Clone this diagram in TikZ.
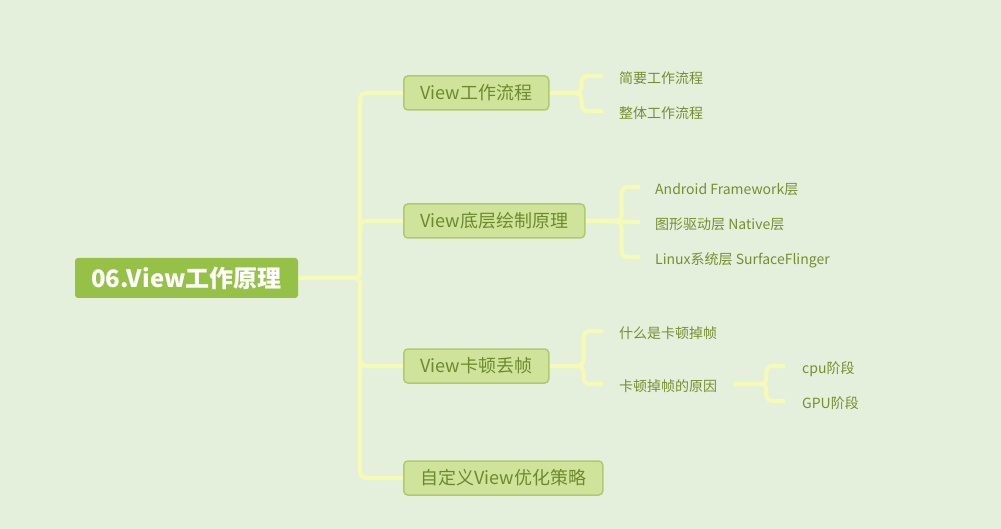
\documentclass[tikz,border=0pt]{standalone}
\usepackage{fontspec}
\newfontfamily\cjk{Noto Sans CJK SC}
\usetikzlibrary{backgrounds}
\definecolor{bgc}{HTML}{E5F0DC}
\definecolor{rootfill}{HTML}{94C146}
\definecolor{boxfill}{HTML}{CFE49A}
\definecolor{boxline}{HTML}{B0CB6C}
\definecolor{boxtext}{HTML}{6C8A2D}
\definecolor{leaftext}{HTML}{758F30}
\definecolor{conn}{HTML}{F5FBB5}
\tikzset{
  rootbox/.style={fill=rootfill, rounded corners=3pt, minimum width=223pt, minimum height=40pt,
    inner sep=0pt, text=white, font=\cjk\bfseries\fontsize{24}{26}\selectfont},
  topicbox/.style={fill=boxfill, draw=boxline, line width=1.5pt, rounded corners=4pt, minimum height=34pt,
    inner sep=0pt, anchor=west, text=boxtext, font=\cjk\fontsize{18}{20}\selectfont},
  leaf/.style={anchor=west, inner ysep=2pt, inner xsep=16pt, text height=14.5pt, text depth=0pt,
    text=leaftext, font=\cjk\fontsize{14}{16}\selectfont},
  link/.style={draw=conn, line width=4pt, rounded corners=6pt},
}
\begin{document}
\begin{tikzpicture}[x=1pt,y=-1pt]
\useasboundingbox (0,0) rectangle (1001,529);
\node[rootbox] (root) at (186.5,278) {06.View工作原理};
\node[topicbox, minimum width=145pt] (b1) at (403,93) {View工作流程};
\node[topicbox, minimum width=181pt] (b2) at (403,221) {View底层绘制原理};
\node[topicbox, minimum width=145pt] (b3) at (403,366) {View卡顿丢帧};
\node[topicbox, minimum width=199pt] (b4) at (403,478) {自定义View优化策略};
\node[leaf] (l11) at (603,76) {简要工作流程};
\node[leaf] (l12) at (603,111) {整体工作流程};
\node[leaf, inner xsep=15pt] (l21) at (640,187) {Android Framework层};
\node[leaf, inner xsep=15pt] (l22) at (640,222) {图形驱动层 Native层};
\node[leaf, inner xsep=15pt] (l23) at (640,257) {Linux系统层 SurfaceFlinger};
\node[leaf] (l31) at (603,331) {什么是卡顿掉帧};
\node[leaf] (l32) at (603,384) {卡顿掉帧的原因};
\node[leaf, inner xsep=17pt] (l41) at (785,366) {cpu阶段};
\node[leaf, inner xsep=17pt] (l42) at (785,401) {GPU阶段};
\begin{scope}[on background layer]
\fill[bgc] (0,0) rectangle (1001,529);
\draw[link] (root.east) -- ++(62,0) |- (b1.west);
\draw[link] (root.east) -- ++(62,0) |- (b2.west);
\draw[link] (root.east) -- ++(62,0) |- (b3.west);
\draw[link] (root.east) -- ++(62,0) |- (b4.west);
\draw[link] (b1.east) -- ++(32,0) |- (l11.west);
\draw[link] (b1.east) -- ++(32,0) |- (l12.west);
\draw[link] (b2.east) -- ++(36,0) |- (l21.west);
\draw[link] (b2.east) -- (l22.west);
\draw[link] (b2.east) -- ++(36,0) |- (l23.west);
\draw[link] (b3.east) -- ++(34,0) |- (l31.west);
\draw[link] (b3.east) -- ++(34,0) |- (l32.west);
\draw[link] (l32.east) -- ++(33,0) |- (l41.west);
\draw[link] (l32.east) -- ++(33,0) |- (l42.west);
\end{scope}
\end{tikzpicture}
\end{document}
